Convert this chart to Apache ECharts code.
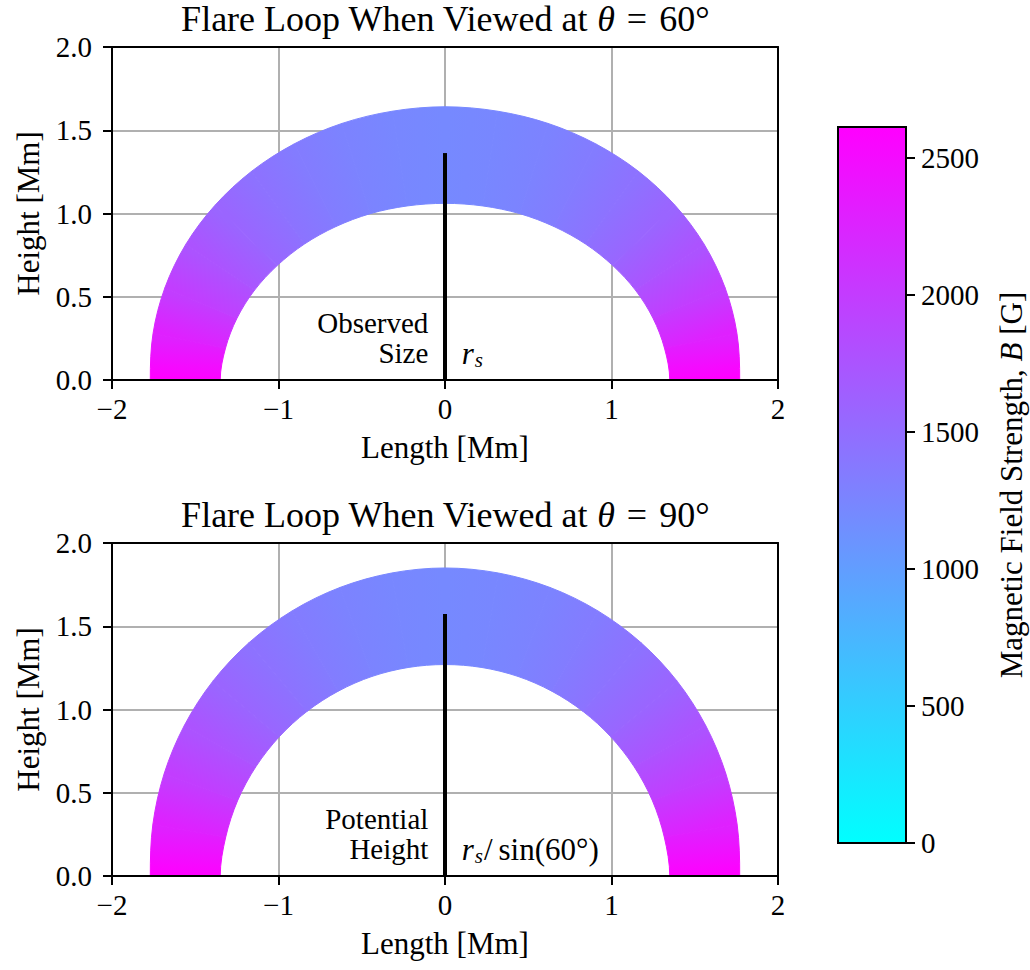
<!DOCTYPE html>
<html><head><meta charset="utf-8">
<script src="https://cdn.jsdelivr.net/npm/echarts@6/dist/echarts.min.js"></script>
<style>html,body{margin:0;padding:0;background:#fff}#c{width:1030px;height:970px}</style>
</head><body><div id="c"></div>
<script>
const FONT = 'Liberation Serif';
// ---- data ----
const xRange = [-2, 2];
const yRange = [0, 2];
const cbTickValues = [0, 500, 1000, 1500, 2000, 2500];
const fieldMax = 2613;
// loop centre line (Mm), from left footpoint to right footpoint
const loopX = [-1.56,-1.536,-1.466,-1.351,-1.195,-1.003,-0.78,-0.534,-0.271,0,0.271,0.534,0.78,1.003,1.195,1.351,1.466,1.536,1.56];
const loopY60 = [0,0.235,0.462,0.676,0.868,1.035,1.170,1.270,1.330,1.351,1.330,1.270,1.170,1.035,0.868,0.676,0.462,0.235,0];
const loopY90 = [0,0.271,0.534,0.78,1.003,1.195,1.351,1.466,1.536,1.56,1.536,1.466,1.351,1.195,1.003,0.78,0.534,0.271,0];
// loop half thickness (Mm) and magnetic field strength (G) along the loop
const halfWidth = [0.21,0.222,0.235,0.248,0.26,0.27,0.278,0.284,0.288,0.29,0.288,0.284,0.278,0.27,0.26,0.248,0.235,0.222,0.21];
const fieldB = [2610,2280,1990,1760,1580,1440,1340,1270,1225,1210,1225,1270,1340,1440,1580,1760,1990,2280,2610];
const observedSize = 1.363;     // r_s
const potentialHeight = 1.574;  // r_s / sin(60°)
const panelAngles = ['60°', '90°'];
const noteLines = [['Observed', 'Size'], ['Potential', 'Height']];
const noteX = [-0.1, 0.1];            // right edge of left note, left edge of right note
const noteBaselines = [0.282, 0.102]; // baselines of the two lines

// ---- helpers ----
function cool(b) {
  const t = Math.max(0, Math.min(1, b / fieldMax));
  return 'rgb(' + Math.round(255 * t) + ',' + Math.round(255 * (1 - t)) + ',255)';
}
const N = loopX.length;
function edges(Y, j) {
  if (j < 0) { const e = edges(Y, 1); return { outer: [e.outer[0], -e.outer[1]], inner: [e.inner[0], -e.inner[1]] }; }
  if (j > N - 1) { const e = edges(Y, N - 2); return { outer: [e.outer[0], -e.outer[1]], inner: [e.inner[0], -e.inner[1]] }; }
  const prev = j > 0 ? [loopX[j - 1], Y[j - 1]] : [loopX[1], -Y[1]];
  const next = j < N - 1 ? [loopX[j + 1], Y[j + 1]] : [loopX[N - 2], -Y[N - 2]];
  let tx = next[0] - prev[0], ty = next[1] - prev[1];
  const L = Math.hypot(tx, ty); tx /= L; ty /= L;
  const nx = -ty, ny = tx;
  const w = halfWidth[j];
  return {
    outer: [loopX[j] + w * nx, Y[j] + w * ny],
    inner: [loopX[j] - w * nx, Y[j] - w * ny]
  };
}
function f(p) { return p[0].toFixed(2) + ' ' + p[1].toFixed(2); }
function ctrl(p0, p1, p2, p3) {
  return [
    [p1[0] + (p2[0] - p0[0]) / 6, p1[1] + (p2[1] - p0[1]) / 6],
    [p2[0] - (p3[0] - p1[0]) / 6, p2[1] - (p3[1] - p1[1]) / 6]
  ];
}
function loopRender(Y) {
  return function (params, api) {
    const i = api.value(0);
    const E = [i - 1, i, i + 1, i + 2].map(k => edges(Y, k));
    const O = E.map(e => api.coord(e.outer));
    const I = E.map(e => api.coord(e.inner));
    const co = ctrl(O[0], O[1], O[2], O[3]);
    const ci = ctrl(I[3], I[2], I[1], I[0]);
    const path = 'M' + f(O[1]) + ' C' + f(co[0]) + ' ' + f(co[1]) + ' ' + f(O[2]) +
      ' L' + f(I[2]) + ' C' + f(ci[0]) + ' ' + f(ci[1]) + ' ' + f(I[1]) + ' Z';
    const m0 = [(O[1][0] + I[1][0]) / 2, (O[1][1] + I[1][1]) / 2];
    const m1 = [(O[2][0] + I[2][0]) / 2, (O[2][1] + I[2][1]) / 2];
    const grad = new echarts.graphic.LinearGradient(m0[0], m0[1], m1[0], m1[1], [
      { offset: 0, color: cool(fieldB[i]) }, { offset: 1, color: cool(fieldB[i + 1]) }
    ], true);
    return { type: 'path', shape: { pathData: path }, style: { fill: grad, stroke: grad, lineWidth: 1 } };
  };
}
const mctx = document.createElement('canvas').getContext('2d');
function tw(text, font) { mctx.font = font; return mctx.measureText(text).width; }
const FS = 31;
const FN = FS + 'px "' + FONT + '"';
const FNI = 'italic ' + FS + 'px "' + FONT + '"';
const FNOTE = '29px "' + FONT + '"';
const FSUB = 'italic 21px "' + FONT + '"';

function noteRender(p) {
  return function (params, api) {
    const children = [];
    const L1 = api.coord([noteX[0], noteBaselines[0]]);
    const L2 = api.coord([noteX[0], noteBaselines[1]]);
    const R = api.coord([noteX[1], noteBaselines[1]]);
    const off = 10;
    children.push({ type: 'text', style: { text: noteLines[p][0], x: L1[0], y: L1[1] - off, align: 'right', verticalAlign: 'middle', font: FNOTE, fill: '#000' } });
    children.push({ type: 'text', style: { text: noteLines[p][1], x: L2[0], y: L2[1] - off, align: 'right', verticalAlign: 'middle', font: FNOTE, fill: '#000' } });
    let x = R[0];
    children.push({ type: 'text', style: { text: 'r', x: x, y: R[1] - off, align: 'left', verticalAlign: 'middle', font: FNI, fill: '#000' } });
    x += tw('r', FNI) + 1;
    children.push({ type: 'text', style: { text: 's', x: x, y: R[1] - off + 7, align: 'left', verticalAlign: 'middle', font: FSUB, fill: '#000' } });
    x += tw('s', FSUB);
    if (p === 1) {
      x += 1;
      children.push({ type: 'text', style: { text: '/', x: x, y: R[1] - off, align: 'left', verticalAlign: 'middle', font: FN, fill: '#000' } });
      x += tw('/', FN) + 6;
      children.push({ type: 'text', style: { text: 'sin(60°)', x: x, y: R[1] - off, align: 'left', verticalAlign: 'middle', font: FN, fill: '#000' } });
    }
    return { type: 'group', children: children };
  };
}

const gridTops = [47, 543];
const grids = gridTops.map(t => ({ left: 112, top: t, width: 666, height: 333, containLabel: false }));
grids.push({ left: 838, top: 127, width: 68, height: 716 });

const tickStyle = { fontFamily: FONT, fontSize: 29, color: '#000' };
const nameStyle = { fontFamily: FONT, fontSize: FS, color: '#000' };
const xAxes = [], yAxes = [], series = [];
const spine = { show: true, onZero: false, lineStyle: { color: '#000', width: 2 } };
[0, 1].forEach(p => {
  const xb = xAxes.length;
  xAxes.push({
    gridIndex: p, type: 'value', min: xRange[0], max: xRange[1], interval: 1, position: 'bottom', z: 1,
    axisLine: spine,
    axisTick: { show: true, length: 9, lineStyle: { color: '#000', width: 2 } },
    axisLabel: Object.assign({ margin: 14, formatter: v => (v < 0 ? '\u2212' + Math.abs(v) : String(v)) }, tickStyle),
    splitLine: { show: true, showMinLine: false, showMaxLine: false, lineStyle: { color: '#b0b0b0', width: 2 } },
    name: 'Length [Mm]', nameLocation: 'middle', nameGap: 52, nameTextStyle: nameStyle
  });
  xAxes.push({
    gridIndex: p, type: 'value', min: xRange[0], max: xRange[1], interval: 1, position: 'bottom', z: 10,
    axisLine: spine, axisTick: { show: false }, axisLabel: { show: false }, splitLine: { show: false }
  });
  xAxes.push({
    gridIndex: p, type: 'value', min: xRange[0], max: xRange[1], interval: 1, position: 'top', z: 10,
    axisLine: spine, axisTick: { show: false }, axisLabel: { show: false }, splitLine: { show: false }
  });
  const yb = yAxes.length;
  yAxes.push({
    gridIndex: p, type: 'value', min: yRange[0], max: yRange[1], interval: 0.5, position: 'left', z: 1,
    axisLine: spine,
    axisTick: { show: true, length: 9, lineStyle: { color: '#000', width: 2 } },
    axisLabel: Object.assign({ margin: 20, formatter: v => v.toFixed(1) }, tickStyle),
    splitLine: { show: true, showMinLine: false, showMaxLine: false, lineStyle: { color: '#b0b0b0', width: 2 } },
    name: 'Height [Mm]', nameLocation: 'middle', nameGap: 68, nameTextStyle: nameStyle
  });
  yAxes.push({
    gridIndex: p, type: 'value', min: yRange[0], max: yRange[1], interval: 0.5, position: 'right', z: 10,
    axisLine: spine, axisTick: { show: false }, axisLabel: { show: false }, splitLine: { show: false }
  });
  const Y = p === 0 ? loopY60 : loopY90;
  series.push({
    type: 'custom', xAxisIndex: xb, yAxisIndex: yb, clip: true, z: 2, silent: true,
    renderItem: loopRender(Y),
    data: loopX.slice(0, -1).map((_, i) => [i])
  });
  series.push({
    type: 'line', xAxisIndex: xb, yAxisIndex: yb, z: 3, symbol: 'none', silent: true,
    lineStyle: { color: '#000', width: 4 },
    data: [[0, 0], [0, p === 0 ? observedSize : potentialHeight]]
  });
  series.push({
    type: 'custom', xAxisIndex: xb, yAxisIndex: yb, z: 4, silent: true, clip: false,
    renderItem: noteRender(p), data: [[0, 0]]
  });
});
const cbx = xAxes.length;
xAxes.push({ gridIndex: 2, type: 'value', min: 0, max: 1, show: false });
const cby = yAxes.length;
yAxes.push({
  gridIndex: 2, type: 'value', min: 0, max: fieldMax, position: 'right',
  axisLine: { show: false, onZero: false },
  axisTick: { show: true, length: 9, customValues: cbTickValues, lineStyle: { color: '#000', width: 2 } },
  axisLabel: Object.assign({ margin: 15, customValues: cbTickValues, formatter: v => String(v) }, tickStyle),
  splitLine: { show: false },
  name: 'Magnetic Field Strength, {i|B} [G]', nameLocation: 'middle', nameGap: 90, nameRotate: 90,
  nameTextStyle: Object.assign({ rich: { i: { fontFamily: FONT, fontSize: FS, fontStyle: 'italic', color: '#000' } } }, nameStyle)
});
series.push({
  type: 'custom', xAxisIndex: cbx, yAxisIndex: cby, silent: true, z: 2,
  renderItem: function (params, api) {
    const a = api.coord([0, 0]), b = api.coord([1, fieldMax]);
    return {
      type: 'rect', shape: { x: a[0], y: b[1], width: b[0] - a[0], height: a[1] - b[1] },
      style: {
        fill: new echarts.graphic.LinearGradient(0, 1, 0, 0, [{ offset: 0, color: cool(0) }, { offset: 1, color: cool(fieldMax) }]),
        stroke: '#000', lineWidth: 2
      }
    };
  },
  data: [[0, 0]]
});

const TS = 36;
const titleRich = { i: { fontFamily: FONT, fontSize: TS, fontStyle: 'italic', fill: '#000', lineHeight: TS } };
const graphics = [0, 1].map(p => ({
  type: 'text', x: 445, y: gridTops[p] - 28, z: 10,
  style: { text: 'Flare Loop When Viewed at {i|θ}\u2004=\u2004' + panelAngles[p], align: 'center', verticalAlign: 'middle',
    fontFamily: FONT, fontSize: TS, lineHeight: TS, fill: '#000', rich: titleRich }
}));

const chart = echarts.init(document.getElementById('c'), null, { renderer: 'svg' });
chart.setOption({
  animation: false, backgroundColor: '#fff',
  grid: grids, xAxis: xAxes, yAxis: yAxes, series: series, graphic: graphics
});
</script></body></html>
